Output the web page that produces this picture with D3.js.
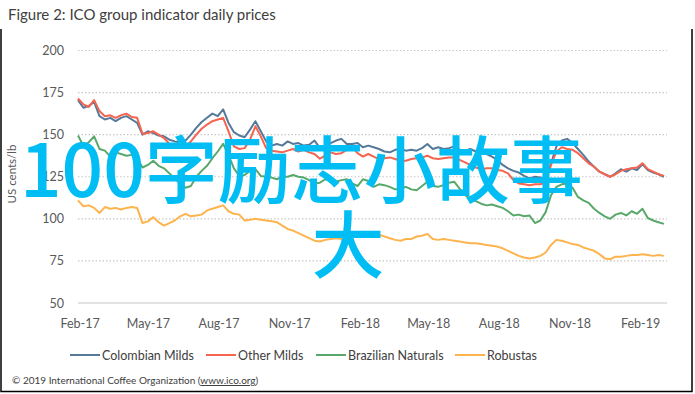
<!DOCTYPE html>
<html>
<head>
<meta charset="utf-8">
<script src="https://cdn.jsdelivr.net/npm/d3@7"></script>
<style>
  body { margin: 0; background: #fff; }
  svg { display: block; }
  .tick text { fill: #595959; }
</style>
</head>
<body>
<div id="vis"></div>
<script>
const frame_width = 695;
const frame_height = 394;
const plot = {left: 78, right: 667, top: 50.5, bottom: 303};

// weekly readings, Mondays from 30 Jan 2017 to 4 Mar 2019
const weeks = d3.timeMonday.range(new Date(2017, 0, 30), new Date(2019, 2, 5));

const colombian_milds = [
  170.5, 166, 167, 169.5, 161, 159, 160, 158, 160, 161,
  159, 157, 150, 152, 151, 149.5, 149, 147, 146, 145.5,
  146.5, 150, 154, 157.5, 160, 162.5, 161, 165, 157, 151.5,
  149.5, 148.5, 153, 158, 152, 146, 143.5, 144.5, 143.5, 146,
  144.5, 145, 143.5, 144, 146.5, 142, 143.5, 145, 146.5, 147.5,
  144.5, 144.5, 145, 142.5, 143.5, 142.5, 141.5, 140, 139.5, 141,
  141.5, 140.5, 141, 140.5, 142, 144.5, 141.5, 142.5, 141.5, 142,
  143, 141, 140.5, 141.5, 140, 139.5, 138.5, 137, 135, 132,
  130, 128.5, 127.5, 125.5, 124, 125, 124.5, 124, 133, 143,
  146.5, 147.5, 145, 141.5, 138, 134, 131, 128, 126.5, 125,
  127, 129.5, 128, 130, 129, 132.5, 129, 127.5, 126.5, 125
];
const other_milds = [
  171.5, 168, 166.5, 170.5, 164, 161, 161.5, 160, 161.5, 162.5,
  160.5, 160, 150.5, 151, 152, 150, 148, 144.5, 143, 142.5,
  143, 146, 150, 153.5, 156, 158, 159, 160, 152, 143,
  141.5, 142, 147, 155, 149, 142, 140.5, 140, 139.5, 140.5,
  141.5, 140, 141, 139.5, 138.5, 135.7, 137.5, 139.5, 138.5, 139,
  141, 142.5, 139, 137, 138.5, 137, 135.5, 136, 136.5, 135.5,
  134.5, 134.5, 135.5, 136, 136.5, 137.5, 136, 135.5, 136, 136.5,
  136.5, 135, 133.5, 132, 130.5, 129.5, 130, 130, 129, 128.5,
  127, 123, 121, 120.5, 120, 120.5, 120.5, 121.5, 132, 140,
  142.5, 141.5, 141, 139, 136, 133, 131, 128, 126.5, 125,
  126.5, 128.5, 129.5, 130, 130.5, 133, 129.5, 128, 126.5, 125.5
];
const brazilian_naturals = [
  149.5, 143.5, 145.5, 149, 141.5, 140.5, 137, 139.5, 138.5, 137.5,
  138, 136, 130.5, 132, 134.5, 131.5, 130, 127, 124, 121,
  118.5, 119.5, 125, 128.5, 131.5, 136, 140, 144.5, 138, 130,
  125.5, 126, 128.5, 129.5, 125.5, 125, 124.5, 123.5, 125, 125,
  126, 125, 124.5, 123, 121, 121.5, 123.5, 122.5, 122, 123,
  123.5, 121, 119.5, 123.5, 122.5, 119, 120.5, 120, 119, 117.5,
  118, 119, 117.5, 117, 119.5, 122, 119.5, 119, 120, 121.5,
  122, 118, 114, 112, 110.5, 109, 108, 108.5, 107.5, 106.5,
  104.5, 102, 102.5, 101.5, 102, 97.5, 99, 104, 114, 119,
  120.5, 121, 118.5, 113, 111, 109.5, 106, 103.5, 101.5, 100,
  102.5, 103.5, 102, 104.5, 103, 106, 100.5, 99, 98, 97
];
const robustas = [
  111, 107.5, 108, 106.5, 103.5, 107, 106, 106.5, 105.5, 106.5,
  107, 106.5, 97.5, 98.5, 101, 98, 96, 97.5, 99, 101.5,
  103, 101.5, 102, 102.5, 105, 106, 107, 108, 104.5, 103,
  102.5, 99, 99.5, 100, 99.5, 99, 98.5, 98, 96, 94,
  93, 91.5, 90, 88.5, 87, 86.5, 87.5, 88, 88.5, 88,
  88.5, 89, 89.5, 90, 90.5, 89, 90.5, 89.5, 88.5, 87.5,
  87, 88, 88, 89.5, 90, 91, 88, 87.5, 88, 87.5,
  87, 86.5, 86, 85.5, 85.5, 85, 84.5, 84, 83.5, 82.5,
  81, 79.5, 78, 77, 76.5, 77, 78, 80, 84.5, 87.5,
  87, 86, 85, 84.5, 83, 82, 81, 79, 76.5, 76,
  77.5, 77.5, 78, 78.5, 78.5, 79, 78.5, 78, 78.5, 78
];

const series_names = ["Colombian Milds", "Other Milds", "Brazilian Naturals", "Robustas"];
const series_colors = ["#56799a", "#f4644f", "#58a86a", "#fdb44e"];
const y_ticks = [50, 75, 100, 125, 150, 175, 200];
const x_ticks = [
  new Date(2017, 1, 1), new Date(2017, 4, 1), new Date(2017, 7, 1),
  new Date(2017, 10, 1), new Date(2018, 1, 1), new Date(2018, 4, 1),
  new Date(2018, 7, 1), new Date(2018, 10, 1), new Date(2019, 1, 1)
];
const watermark_lines = ["100字励志小故事", "大"];

const all_series = [colombian_milds, other_milds, brazilian_naturals, robustas];

const frame =
d3.select("#vis")
    .append("svg")
        .attr("width", frame_width)
        .attr("height", frame_height)
        .style("font-family", "Lato, 'Open Sans', sans-serif");

// figure box
frame.append("path")
    .attr("d", "M1,29 V391.5 H692 V29")
    .attr("fill", "none")
    .attr("stroke", "#000")
    .attr("stroke-width", 1.5);

frame.append("text")
    .attr("x", 8)
    .attr("y", 20)
    .attr("font-size", "15px")
    .attr("fill", "#404040")
    .text("Figure 2: ICO group indicator daily prices");

const x_scale =
d3.scaleTime()
    .domain([new Date(2017, 0, 30), new Date(2019, 2, 8)])
    .range([plot.left, plot.right]);

const y_scale =
d3.scaleLinear()
    .domain([50, 200])
    .range([plot.bottom, plot.top]);

// gridlines
frame.append("g")
    .selectAll("line")
    .data(y_ticks.filter((d) => d > 50))
    .enter()
    .append("line")
        .attr("x1", plot.left)
        .attr("x2", plot.right)
        .attr("y1", (d) => y_scale(d))
        .attr("y2", (d) => y_scale(d))
        .attr("stroke", "#c8c8c8")
        .attr("stroke-width", 1.2)
        .attr("stroke-dasharray", "1.5,2");

frame.append("line")
    .attr("x1", plot.left)
    .attr("x2", plot.right)
    .attr("y1", y_scale(50))
    .attr("y2", y_scale(50))
    .attr("stroke", "#d9d9d9")
    .attr("stroke-width", 1.5);

frame.append("g")
    .attr("transform", "translate(" + (plot.left - 14) + ",0)")
    .call(
        d3.axisLeft(y_scale)
            .tickValues(y_ticks)
            .tickSize(0)
            .tickPadding(0)
    )
    .call((g) => g.select(".domain").remove())
    .attr("font-family", "Lato, 'Open Sans', sans-serif")
    .attr("font-size", "12.5px");

frame.append("g")
    .attr("transform", "translate(0," + (plot.bottom + 10) + ")")
    .call(
        d3.axisBottom(x_scale)
            .tickValues(x_ticks)
            .tickFormat(d3.timeFormat("%b-%y"))
            .tickSize(0)
            .tickPadding(6)
    )
    .call((g) => g.select(".domain").remove())
    .attr("font-family", "Lato, 'Open Sans', sans-serif")
    .attr("font-size", "12.5px");

frame.append("text")
    .attr("transform", "translate(16,174) rotate(-90)")
    .attr("text-anchor", "middle")
    .attr("font-size", "11.5px")
    .attr("fill", "#595959")
    .text("US cents/lb");

const line =
d3.line()
    .x((d, i) => x_scale(weeks[i]))
    .y((d) => y_scale(d));

frame.append("g")
    .selectAll(".series")
    .data(all_series)
    .enter()
    .append("path")
        .attr("class", "series")
        .attr("d", (d) => line(d))
        .attr("fill", "none")
        .attr("stroke", (d, i) => series_colors[i])
        .attr("stroke-width", 2)
        .attr("stroke-linejoin", "round");

// legend
const legend_x = [70, 206, 316, 455];
const legend =
frame.append("g")
    .selectAll(".legend")
    .data(series_names)
    .enter()
    .append("g")
        .attr("class", "legend")
        .attr("transform", (d, i) => "translate(" + legend_x[i] + ",355)");

legend.append("line")
    .attr("x1", 0)
    .attr("x2", 30)
    .attr("stroke", (d, i) => series_colors[i])
    .attr("stroke-width", 2);

legend.append("text")
    .attr("x", 32)
    .attr("y", 4.5)
    .attr("font-size", "12.5px")
    .attr("fill", "#404040")
    .text((d) => d);

const footer =
frame.append("text")
    .attr("x", 12)
    .attr("y", 384)
    .attr("font-size", "10px")
    .attr("fill", "#404040");
footer.append("tspan").text("© 2019 International Coffee Organization (");
footer.append("tspan").attr("text-decoration", "underline").text("www.ico.org");
footer.append("tspan").text(")");

// overlaid caption
frame.append("g")
    .selectAll(".wm")
    .data(watermark_lines)
    .enter()
    .append("text")
        .attr("class", "wm")
        .attr("x", (d, i) => i === 0 ? 20 : 348)
        .attr("y", (d, i) => i === 0 ? 197 : 272)
        .attr("text-anchor", (d, i) => i === 0 ? "start" : "middle")
        .attr("font-family", "'Noto Sans CJK SC', sans-serif")
        .attr("font-weight", 500)
        .attr("font-size", "73px")
        .attr("fill", "#00bef4")
        .text((d) => d);
</script>
</body>
</html>
